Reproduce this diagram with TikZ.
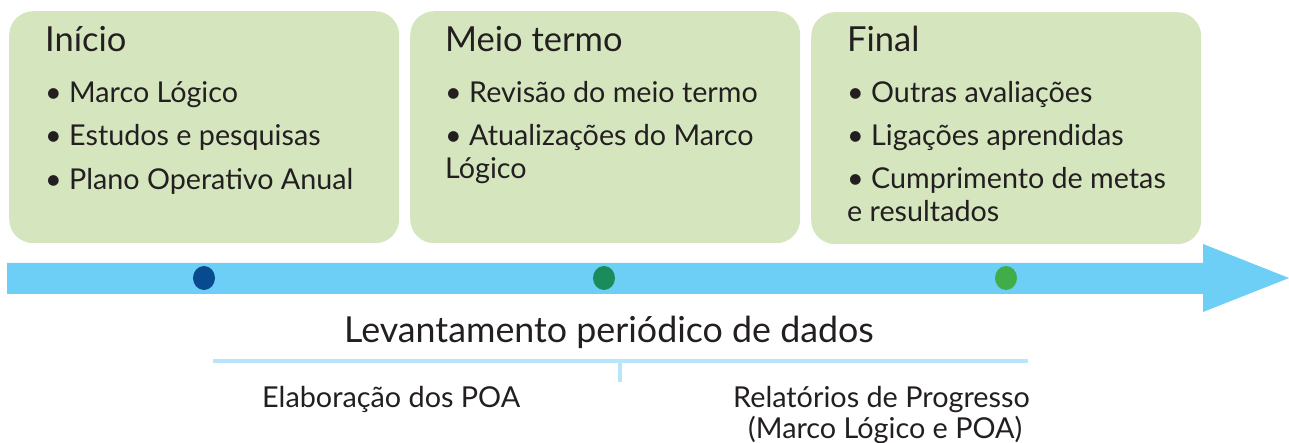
\documentclass[tikz,border=0pt]{standalone}
\usepackage{fontspec}
\setmainfont{Lato}
\definecolor{boxfill}{HTML}{D5E6BF}
\definecolor{band}{HTML}{6DCFF6}
\definecolor{bracket}{HTML}{B9E5FB}
\definecolor{txt}{HTML}{231F20}
\definecolor{dotA}{HTML}{074A8E}
\definecolor{dotB}{HTML}{1A8B5B}
\definecolor{dotC}{HTML}{3FAE49}
\tikzset{
  phasebox/.style={fill=boxfill, draw=none, rounded corners=24pt, minimum width=390pt, minimum height=232pt, anchor=north west, inner sep=0pt},
  title/.style={anchor=base west, inner sep=0pt, text=txt, font=\fontsize{34.5}{40}\selectfont},
  item/.style={anchor=base west, inner sep=0pt, text=txt, font=\fontsize{28.7}{34}\selectfont},
  lowtext/.style={anchor=base west, inner sep=0pt, text=txt, font=\fontsize{28.8}{31}\selectfont},
  midtext/.style={anchor=base west, inner sep=0pt, text=txt, font=\fontsize{35.8}{37}\selectfont},
  milestone/.style={ellipse, minimum width=22pt, minimum height=24pt, inner sep=0pt, draw=none},
}
\usetikzlibrary{shapes.geometric}
\begin{document}
\begin{tikzpicture}[x=1pt,y=-1pt]
\useasboundingbox (0,0) rectangle (1289,443);
% boxes
\node[phasebox] (b1) at (9,11) {};
\node[phasebox] (b2) at (410,11) {};
\node[phasebox] (b3) at (811,12) {};
% box 1
\node[title] (t1) at (45,52) {Início};
\node[item] (i11) at (45,103) {•\ Marco Lógico};
\node[item] (i12) at (45,146) {•\ Estudos e pesquisas};
\node[item] (i13) at (45,190) {•\ Plano Operativo Anual};
% box 2
\node[title] (t2) at (445,52) {Meio termo};
\node[item] (i21) at (445,103) {•\ Revisão do meio termo};
\node[item] (i22) at (445,146) {•\ Atualizações do Marco};
\node[item] (i23) at (445,179) {Lógico};
% box 3
\node[title] (t3) at (847,52) {Final};
\node[item] (i31) at (847,103) {•\ Outras avaliações};
\node[item] (i32) at (847,146) {•\ Ligações aprendidas};
\node[item] (i33) at (847,189) {•\ Cumprimento de metas};
\node[item] (i34) at (847,222) {e resultados};
% arrow band
\fill[band] (7,263) -- (1203,263) -- (1203,244) -- (1289,278) -- (1203,312) -- (1203,294) -- (7,294) -- cycle;
% milestones
\node[milestone, fill=dotA] (m1) at (204,278) {};
\node[milestone, fill=dotB] (m2) at (604,278) {};
\node[milestone, fill=dotC] (m3) at (1006,278) {};
% lower texts
\node[midtext] (lev) at (344,342) {Levantamento periódico de dados};
\coordinate (brL) at (213,361);
\coordinate (brR) at (1028,361);
\coordinate (brM) at (620,361);
\coordinate (brT) at (620,382);
\draw[bracket, line width=4pt] (brL) -- (brR);
\draw[bracket, line width=4pt] (brM) -- (brT);
\node[lowtext] (poa) at (262,407) {Elaboração dos POA};
\node[lowtext] (rel1) at (733,407) {Relatórios de Progresso};
\node[lowtext] (rel2) at (748,438) {(Marco Lógico e POA)};
\end{tikzpicture}
\end{document}
